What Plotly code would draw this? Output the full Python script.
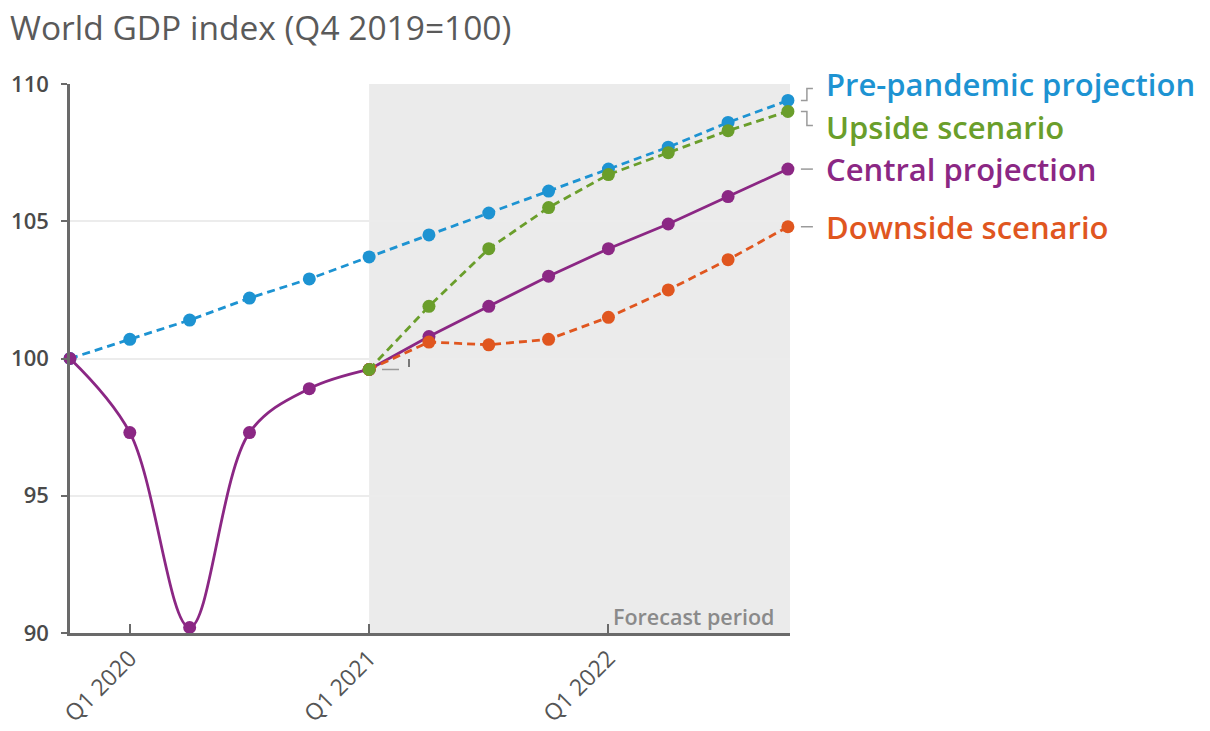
import plotly.graph_objects as go

# Quarterly index values, Q4 2019 = 100
quarters = ["Q4 2019", "Q1 2020", "Q2 2020", "Q3 2020", "Q4 2020",
            "Q1 2021", "Q2 2021", "Q3 2021", "Q4 2021",
            "Q1 2022", "Q2 2022", "Q3 2022", "Q4 2022"]
pre_pandemic = [100.0, 100.7, 101.4, 102.2, 102.9, 103.7, 104.5,
                105.3, 106.1, 106.9, 107.7, 108.6, 109.4]
central = [100.0, 97.3, 90.2, 97.3, 98.9, 99.6, 100.8,
           101.9, 103.0, 104.0, 104.9, 105.9, 106.9]
# Scenarios branch off at Q1 2021
upside = [99.6, 101.9, 104.0, 105.5, 106.7, 107.5, 108.3, 109.0]
downside = [99.6, 100.6, 100.5, 100.7, 101.5, 102.5, 103.6, 104.8]
forecast_start = 5

tick_quarters = ["Q1 2020", "Q1 2021", "Q1 2022"]
y_ticks = [90, 95, 100, 105, 110]

BLUE = "#1d93d2"
GREEN = "#6a9e2b"
PURPLE = "#8b2784"
ORANGE = "#e0561f"
GREY = "#9a9a9a"
FONT = "Open Sans"

xi = list(range(len(quarters)))
xf = xi[forecast_start:]
y_range = [90, 110]
x_range = [0, len(quarters) - 1 + 0.035]

W, H = 1210, 731
L, R, T, B = 70, 420, 84, 98
pw, ph = W - L - R, H - T - B


def px_x(p):
    return (p - L) / pw


def px_y(p):
    return (H - B - p) / ph


def val_y(v):
    return (v - y_range[0]) / (y_range[1] - y_range[0])


def val_x(v):
    return (v - x_range[0]) / (x_range[1] - x_range[0])


fig = go.Figure()

marker = dict(size=13)
LW = 2.8
DASH = "8px,5px"
fig.add_trace(go.Scatter(
    x=xi, y=pre_pandemic, mode="lines+markers",
    line=dict(color=BLUE, width=LW, dash=DASH),
    marker=dict(color=BLUE, **marker), cliponaxis=False))

fig.add_trace(go.Scatter(
    x=xi[:forecast_start + 1], y=central[:forecast_start + 1],
    mode="lines+markers", line=dict(color=PURPLE, width=LW, shape="spline", smoothing=1.0),
    marker=dict(color=PURPLE, **marker), cliponaxis=False))
fig.add_trace(go.Scatter(
    x=xf, y=central[forecast_start:], mode="lines+markers",
    line=dict(color=PURPLE, width=LW),
    marker=dict(color=PURPLE, **marker), cliponaxis=False))

fig.add_trace(go.Scatter(
    x=xf, y=downside, mode="lines+markers",
    line=dict(color=ORANGE, width=LW, dash=DASH),
    marker=dict(color=ORANGE, **marker), cliponaxis=False))

fig.add_trace(go.Scatter(
    x=xf, y=upside, mode="lines+markers",
    line=dict(color=GREEN, width=LW, dash=DASH),
    marker=dict(color=GREEN, **marker), cliponaxis=False))

shapes = [
    # forecast shading
    dict(type="rect", xref="x", yref="paper", x0=forecast_start, x1=x_range[1],
         y0=0, y1=1, fillcolor="#ebebeb", line_width=0, layer="below"),
]

# leader lines for the series labels
end_x = px_x(L + val_x(len(quarters) - 1) * pw + 13)
mid_x = end_x + 6 / pw
far_x = end_x + 12 / pw
gl = dict(color=GREY, width=1.5)
yp = val_y(pre_pandemic[-1])
yu = val_y(upside[-1])
shapes += [
    dict(type="path", xref="paper", yref="paper",
         path=f"M {end_x},{yp} L {mid_x},{yp} L {mid_x},{yp + 12 / ph} L {far_x},{yp + 12 / ph}",
         line=gl),
    dict(type="path", xref="paper", yref="paper",
         path=f"M {end_x},{yu} L {mid_x},{yu} L {mid_x},{yu - 14 / ph} L {far_x},{yu - 14 / ph}",
         line=gl),
    dict(type="line", xref="paper", yref="paper", x0=end_x, x1=far_x,
         y0=val_y(central[-1]), y1=val_y(central[-1]), line=gl),
    dict(type="line", xref="paper", yref="paper", x0=end_x, x1=far_x,
         y0=val_y(downside[-1]), y1=val_y(downside[-1]), line=gl),
    # small marks beside the Q1 2021 branching point
    dict(type="line", xref="paper", yref="paper", x0=px_x(382), x1=px_x(399),
         y0=val_y(central[forecast_start]), y1=val_y(central[forecast_start]), line=gl),
    dict(type="line", xref="paper", yref="paper", x0=px_x(409), x1=px_x(409),
         y0=px_y(359), y1=px_y(367), line=dict(color="#777", width=2)),
]

label_x = px_x(824)
labels = [
    ("Pre-pandemic projection", BLUE, val_y(pre_pandemic[-1]) + 16 / ph),
    ("Upside scenario", GREEN, val_y(upside[-1]) - 16 / ph),
    ("Central projection", PURPLE, val_y(central[-1])),
    ("Downside scenario", ORANGE, val_y(downside[-1])),
]
annotations = [
    dict(text=t, x=label_x, y=y, xref="paper", yref="paper", xanchor="left",
         yanchor="middle", showarrow=False,
         font=dict(family=FONT, size=31, color=c, weight=600))
    for t, c, y in labels
]
annotations.append(dict(
    text="Forecast period", x=px_x(777), y=px_y(616), xref="paper", yref="paper",
    xanchor="right", yanchor="middle", showarrow=False,
    font=dict(family=FONT, size=21.5, color="#8a8a8a", weight=600)))

fig.update_layout(
    width=W, height=H, autosize=False,
    margin=dict(l=L, r=R, t=T, b=B, pad=0, autoexpand=False),
    paper_bgcolor="white", plot_bgcolor="white",
    showlegend=False,
    font=dict(family=FONT, color="#555"),
    title=dict(text="World GDP index (Q4 2019=100)", x=10 / W, xanchor="left",
               xref="container", y=1 - 28 / H, yanchor="middle", yref="container",
               font=dict(family=FONT, size=33.5, color="#5a5a5a")),
    shapes=shapes, annotations=annotations,
    xaxis=dict(range=x_range, tickvals=[quarters.index(q) for q in tick_quarters],
               ticktext=tick_quarters, tickangle=-45, showgrid=False, zeroline=False,
               showline=True, linecolor="#6a6a6a", linewidth=2.5, automargin=False,
               ticks="inside", ticklen=9, tickwidth=1.5, tickcolor="#6a6a6a",
               tickfont=dict(family=FONT, size=23, color="#555")),
    yaxis=dict(range=y_range, tickvals=y_ticks, showgrid=True, gridcolor="#ececec",
               gridwidth=1.5, zeroline=False, showline=True, linecolor="#6a6a6a",
               linewidth=2.5, ticks="outside", ticklen=6, tickwidth=1.5, automargin=False,
               tickcolor="#6a6a6a", ticklabelstandoff=8,
               tickfont=dict(family=FONT, size=22, color="#4a4a4a", weight=600)),
)

fig.write_html("out.html")
